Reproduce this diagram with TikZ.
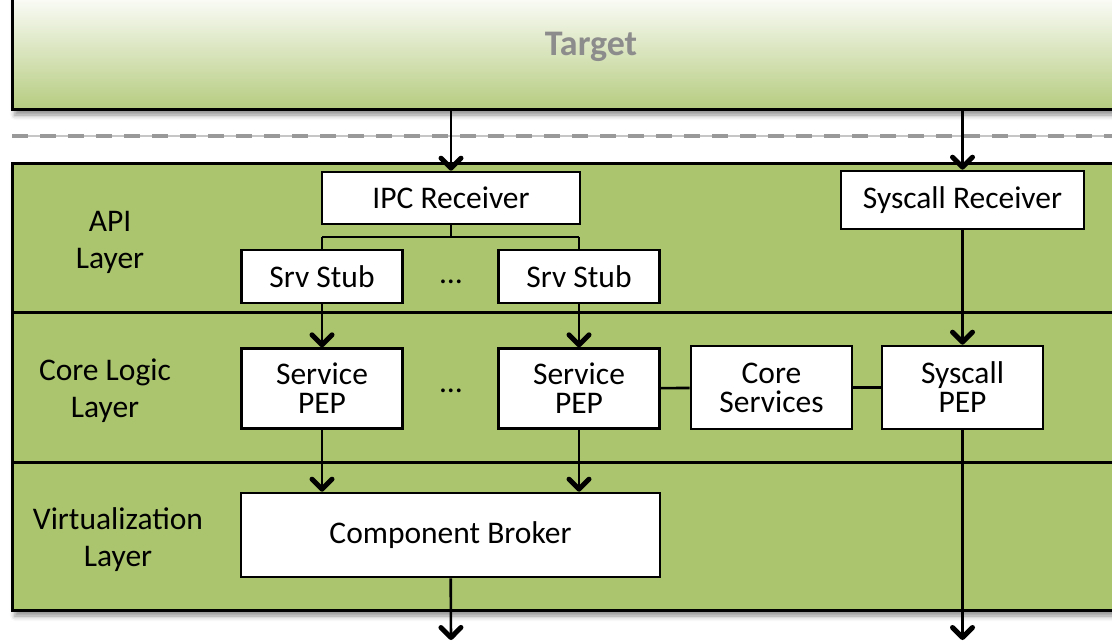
\documentclass[tikz,border=0pt]{standalone}
\usepackage{fontspec}
\setmainfont{Carlito}
\usetikzlibrary{positioning,arrows.meta,shadows.blur}
\definecolor{layergreen}{RGB}{171,196,110}
\definecolor{targetgreen}{RGB}{182,204,128}
\definecolor{targetgray}{RGB}{140,140,140}

\begin{document}
\begin{tikzpicture}[x=1pt,y=-1pt,>={Straight Barb[length=10pt,width=20pt,line width=5pt,round]},every node/.style={font=\fontsize{31.5}{37}\selectfont},
 drop/.style={blur shadow={shadow xshift=3pt,shadow yshift=-6pt,shadow blur radius=5pt,shadow opacity=45}},
 targetbox/.style={draw,line width=3pt,top color=white,bottom color=targetgreen,minimum width=1118pt,minimum height=119pt,drop},
 platform/.style={draw,line width=3pt,fill=layergreen,minimum width=1118pt,minimum height=447pt,drop},
 box/.style={draw,line width=2.6pt,fill=white,align=center,minimum width=161pt,minimum height=80pt,inner sep=0pt,font=\fontsize{31.5}{29}\selectfont},
 wire/.style={line width=2.6pt},layertext/.style={align=center}]
\useasboundingbox (0,0) rectangle (1112,643);
% target on top, separated by a dashed boundary
\node[targetbox] (target) at (571,49.5) {};
\node[text=targetgray,font=\fontsize{36}{40}\selectfont\bfseries] (ttl) at (591,47) {Target};
\coordinate (dl) at (12,136);\coordinate (dr) at (1112,136);
\draw[gray!45,line width=1.6pt](dl)--(dr);
\draw[gray!80,line width=4pt,dash pattern=on 16pt off 12pt](dl)--(dr);
% the three layers
\node[platform] (plat) at (571,386.5) {};
\draw[wire,line width=3pt](12,312)--(1130,312);
\draw[wire,line width=3pt](12,462)--(1130,462);
\node[layertext] (api) at (110,242) {API\\Layer};
\node[layertext] (core) at (105,391) {Core Logic\\Layer};
\node[layertext] (virt) at (118,540) {Virtualization\\Layer};
% API layer
\node[box,minimum width=258pt,minimum height=52pt] (ipc) at (451,198) {IPC Receiver};
\node[box,minimum width=243pt,minimum height=58pt] (sysrecv) at (962.5,200) {Syscall Receiver};
\node[box,minimum height=53pt] (stubA) at (322,276.5) {Srv Stub};
\node[box,minimum height=53pt] (stubB) at (579,276.5) {Srv Stub};
\node (dotsA) at (451,282) {\dots};
% core logic layer
\node[box,below=43pt of stubA] (pepA) {Service\\PEP};
\node[box,below=43pt of stubB] (pepB) {Service\\PEP};
\node (dotsB) at (451,391) {\dots};
\node[box,minimum height=83pt] (coresrv) at (771.5,387.5) {Core\\Services};
\node[box,minimum height=83pt] (syspep) at (962.5,387.5) {Syscall\\PEP};
% virtualization layer
\node[box,minimum width=419pt,minimum height=84pt] (broker) at (450.5,535) {Component Broker};
\coordinate (outA) at (451,640);\coordinate (outB) at (962.5,640);
\coordinate (fork) at (451,237);
% connectors
\draw[wire,->](target.south-|ipc)--(ipc);\draw[wire,->](target.south-|sysrecv)--(sysrecv);
\draw[wire](ipc)--(fork);\draw[wire](fork-|stubA)--(fork-|stubB);
\draw[wire](fork-|stubA)--(stubA);\draw[wire](fork-|stubB)--(stubB);
\draw[wire,->](stubA)--(pepA);\draw[wire,->](stubB)--(pepB);
\draw[wire,->](sysrecv)--(syspep);
\draw[wire](pepB)--(coresrv);\draw[wire](coresrv)--(syspep);
\draw[wire,->](pepA)--(pepA|-broker.north);\draw[wire,->](pepB)--(pepB|-broker.north);
\draw[wire,->](broker)--(outA);\draw[wire,->](syspep)--(outB);
\end{tikzpicture}
\end{document}
